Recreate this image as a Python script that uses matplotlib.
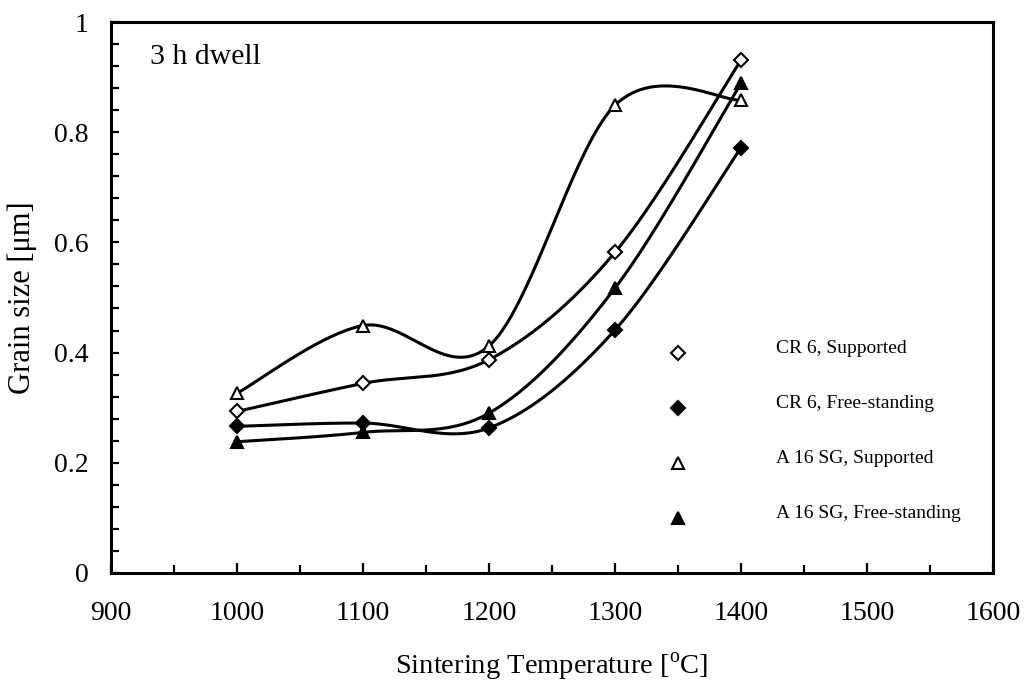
import matplotlib
matplotlib.use("Agg")
import matplotlib.pyplot as plt
import numpy as np
from matplotlib.ticker import MultipleLocator

plt.rcParams["font.family"] = ["Liberation Serif", "DejaVu Serif"]
plt.rcParams["mathtext.fontset"] = "custom"
plt.rcParams["mathtext.rm"] = "Liberation Serif"

temperature = [1000, 1100, 1200, 1300, 1400]
cr6_supported = [0.293, 0.344, 0.387, 0.582, 0.931]
cr6_free = [0.266, 0.272, 0.263, 0.441, 0.772]
a16_supported = [0.326, 0.449, 0.412, 0.849, 0.858]
a16_free = [0.238, 0.255, 0.290, 0.517, 0.889]

legend_labels = ["CR 6, Supported", "CR 6, Free-standing",
                 "A 16 SG, Supported", "A 16 SG, Free-standing"]
legend_x = 1350
legend_y = [0.4, 0.3, 0.2, 0.1]


def smooth(xs, ys, n=40):
    # Catmull-Rom style smoothing, like a spreadsheet "smoothed line"
    p = np.column_stack([xs, ys]).astype(float)
    p = np.vstack([p[0], p, p[-1]])
    out = []
    for i in range(1, len(p) - 2):
        p0, p1, p2, p3 = p[i - 1], p[i], p[i + 1], p[i + 2]
        m1 = (p2 - p0) / 2
        m2 = (p3 - p1) / 2
        t = np.linspace(0, 1, n)[:, None]
        h00 = 2 * t**3 - 3 * t**2 + 1
        h10 = t**3 - 2 * t**2 + t
        h01 = -2 * t**3 + 3 * t**2
        h11 = t**3 - t**2
        out.append(h00 * p1 + h10 * m1 + h01 * p2 + h11 * m2)
    c = np.vstack(out)
    return c[:, 0], c[:, 1]


series = [
    (cr6_supported, "D", "white", 7),
    (cr6_free, "D", "black", 7),
    (a16_supported, "^", "white", 9),
    (a16_free, "^", "black", 9),
]

fig = plt.figure(figsize=(10.27, 6.91), dpi=100)
ax = fig.add_axes([0.108, 0.171, 0.859, 0.797])

for (vals, mk, fc, ms), lab, ly in zip(series, legend_labels, legend_y):
    sx, sy = smooth(temperature, vals)
    ax.plot(sx, sy, color="black", lw=2.2, zorder=2)
    ax.plot(temperature, vals, linestyle="none", marker=mk, markersize=ms,
            markerfacecolor=fc, markeredgecolor="black", markeredgewidth=1.5, zorder=3)
    ax.plot([legend_x], [ly], linestyle="none", marker=mk, markersize=ms,
            markerfacecolor=fc, markeredgecolor="black", markeredgewidth=1.5)
    ax.text(legend_x + 78, ly + 0.008, lab, fontsize=14, va="center", ha="left")

ax.set_xlim(900, 1600)
ax.set_ylim(0, 1)
ax.xaxis.set_major_locator(MultipleLocator(100))
ax.xaxis.set_minor_locator(MultipleLocator(50))
ax.yaxis.set_minor_locator(MultipleLocator(0.04))
ax.set_yticks([0, 0.2, 0.4, 0.6, 0.8, 1])
ax.set_yticklabels(["0", "0.2", "0.4", "0.6", "0.8", "1"])

ax.tick_params(which="both", direction="in", top=False, right=False,
               labelsize=20, width=1.6)
ax.tick_params(axis="y", which="both", length=6, pad=16)
ax.tick_params(axis="x", which="major", length=7, pad=20)
ax.tick_params(axis="x", which="minor", length=6)
for s in ax.spines.values():
    s.set_linewidth(2.2)

ax.set_xlabel("Sintering Temperature [$^{\\mathrm{o}}$C]", fontsize=20.5, labelpad=18)
ax.set_ylabel("Grain size [\u03bcm]", fontsize=22, labelpad=12)
ax.text(0.044, 0.937, "3 h dwell", transform=ax.transAxes, fontsize=21.5,
        va="center", ha="left")

fig.savefig("out.png", dpi=100)
